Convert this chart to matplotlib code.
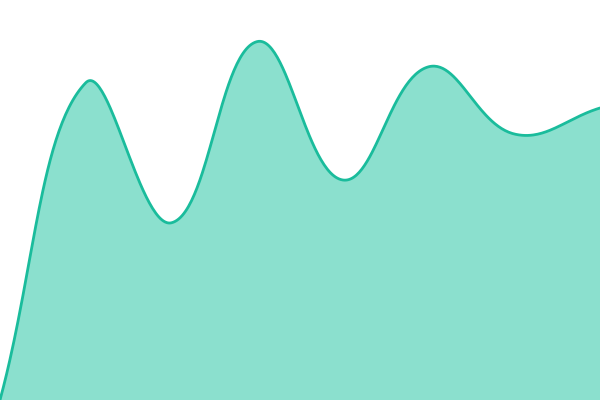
import numpy as np
import matplotlib
matplotlib.use('Agg')
import matplotlib.pyplot as plt

# values (0 = bottom edge, 100 = top edge)
labels = ['1', '2', '3', '4', '5', '6', '7', '8']
values = [0, 79.3, 44.3, 89.6, 55, 83.3, 66.5, 73]

W, H = 600, 400
TENSION = 0.4


def spline_path(xs, ys, tension=TENSION, n=60):
    """Cardinal-style bezier through the points (distances measured in pixels)."""
    px = np.asarray(xs, float) * W / (len(xs) - 1)
    py = np.asarray(ys, float) * H / 100.0
    pts = np.column_stack([px, py])
    cps = []
    for i in range(len(pts)):
        prev = pts[max(i - 1, 0)]
        cur = pts[i]
        nxt = pts[min(i + 1, len(pts) - 1)]
        d01 = np.hypot(*(cur - prev))
        d12 = np.hypot(*(nxt - cur))
        s = d01 + d12
        fa = tension * d01 / s if s else 0
        fb = tension * d12 / s if s else 0
        cps.append((cur - fa * (nxt - prev), cur + fb * (nxt - prev)))
    out = []
    t = np.linspace(0, 1, n)[:, None]
    for i in range(len(pts) - 1):
        p0 = pts[i]
        p1 = cps[i][1]
        p2 = cps[i + 1][0]
        p3 = pts[i + 1]
        seg = ((1 - t) ** 3) * p0 + 3 * ((1 - t) ** 2) * t * p1 + 3 * (1 - t) * t ** 2 * p2 + t ** 3 * p3
        out.append(seg if i == 0 else seg[1:])
    curve = np.vstack(out)
    return curve[:, 0] * (len(xs) - 1) / W, curve[:, 1] * 100.0 / H


x = np.arange(len(labels))
cx, cy = spline_path(x, values)

fig = plt.figure(figsize=(6, 4), dpi=100)
ax = fig.add_axes([0, 0, 1, 1])
ax.fill_between(cx, cy, 0, color='#8be0ce', linewidth=0)
ax.plot(cx, cy, color='#1abc9c', linewidth=2.0, solid_capstyle='round')
ax.set_xlim(0, len(labels) - 1)
ax.set_ylim(0, 100)
ax.axis('off')

fig.savefig('out.png', dpi=100)
